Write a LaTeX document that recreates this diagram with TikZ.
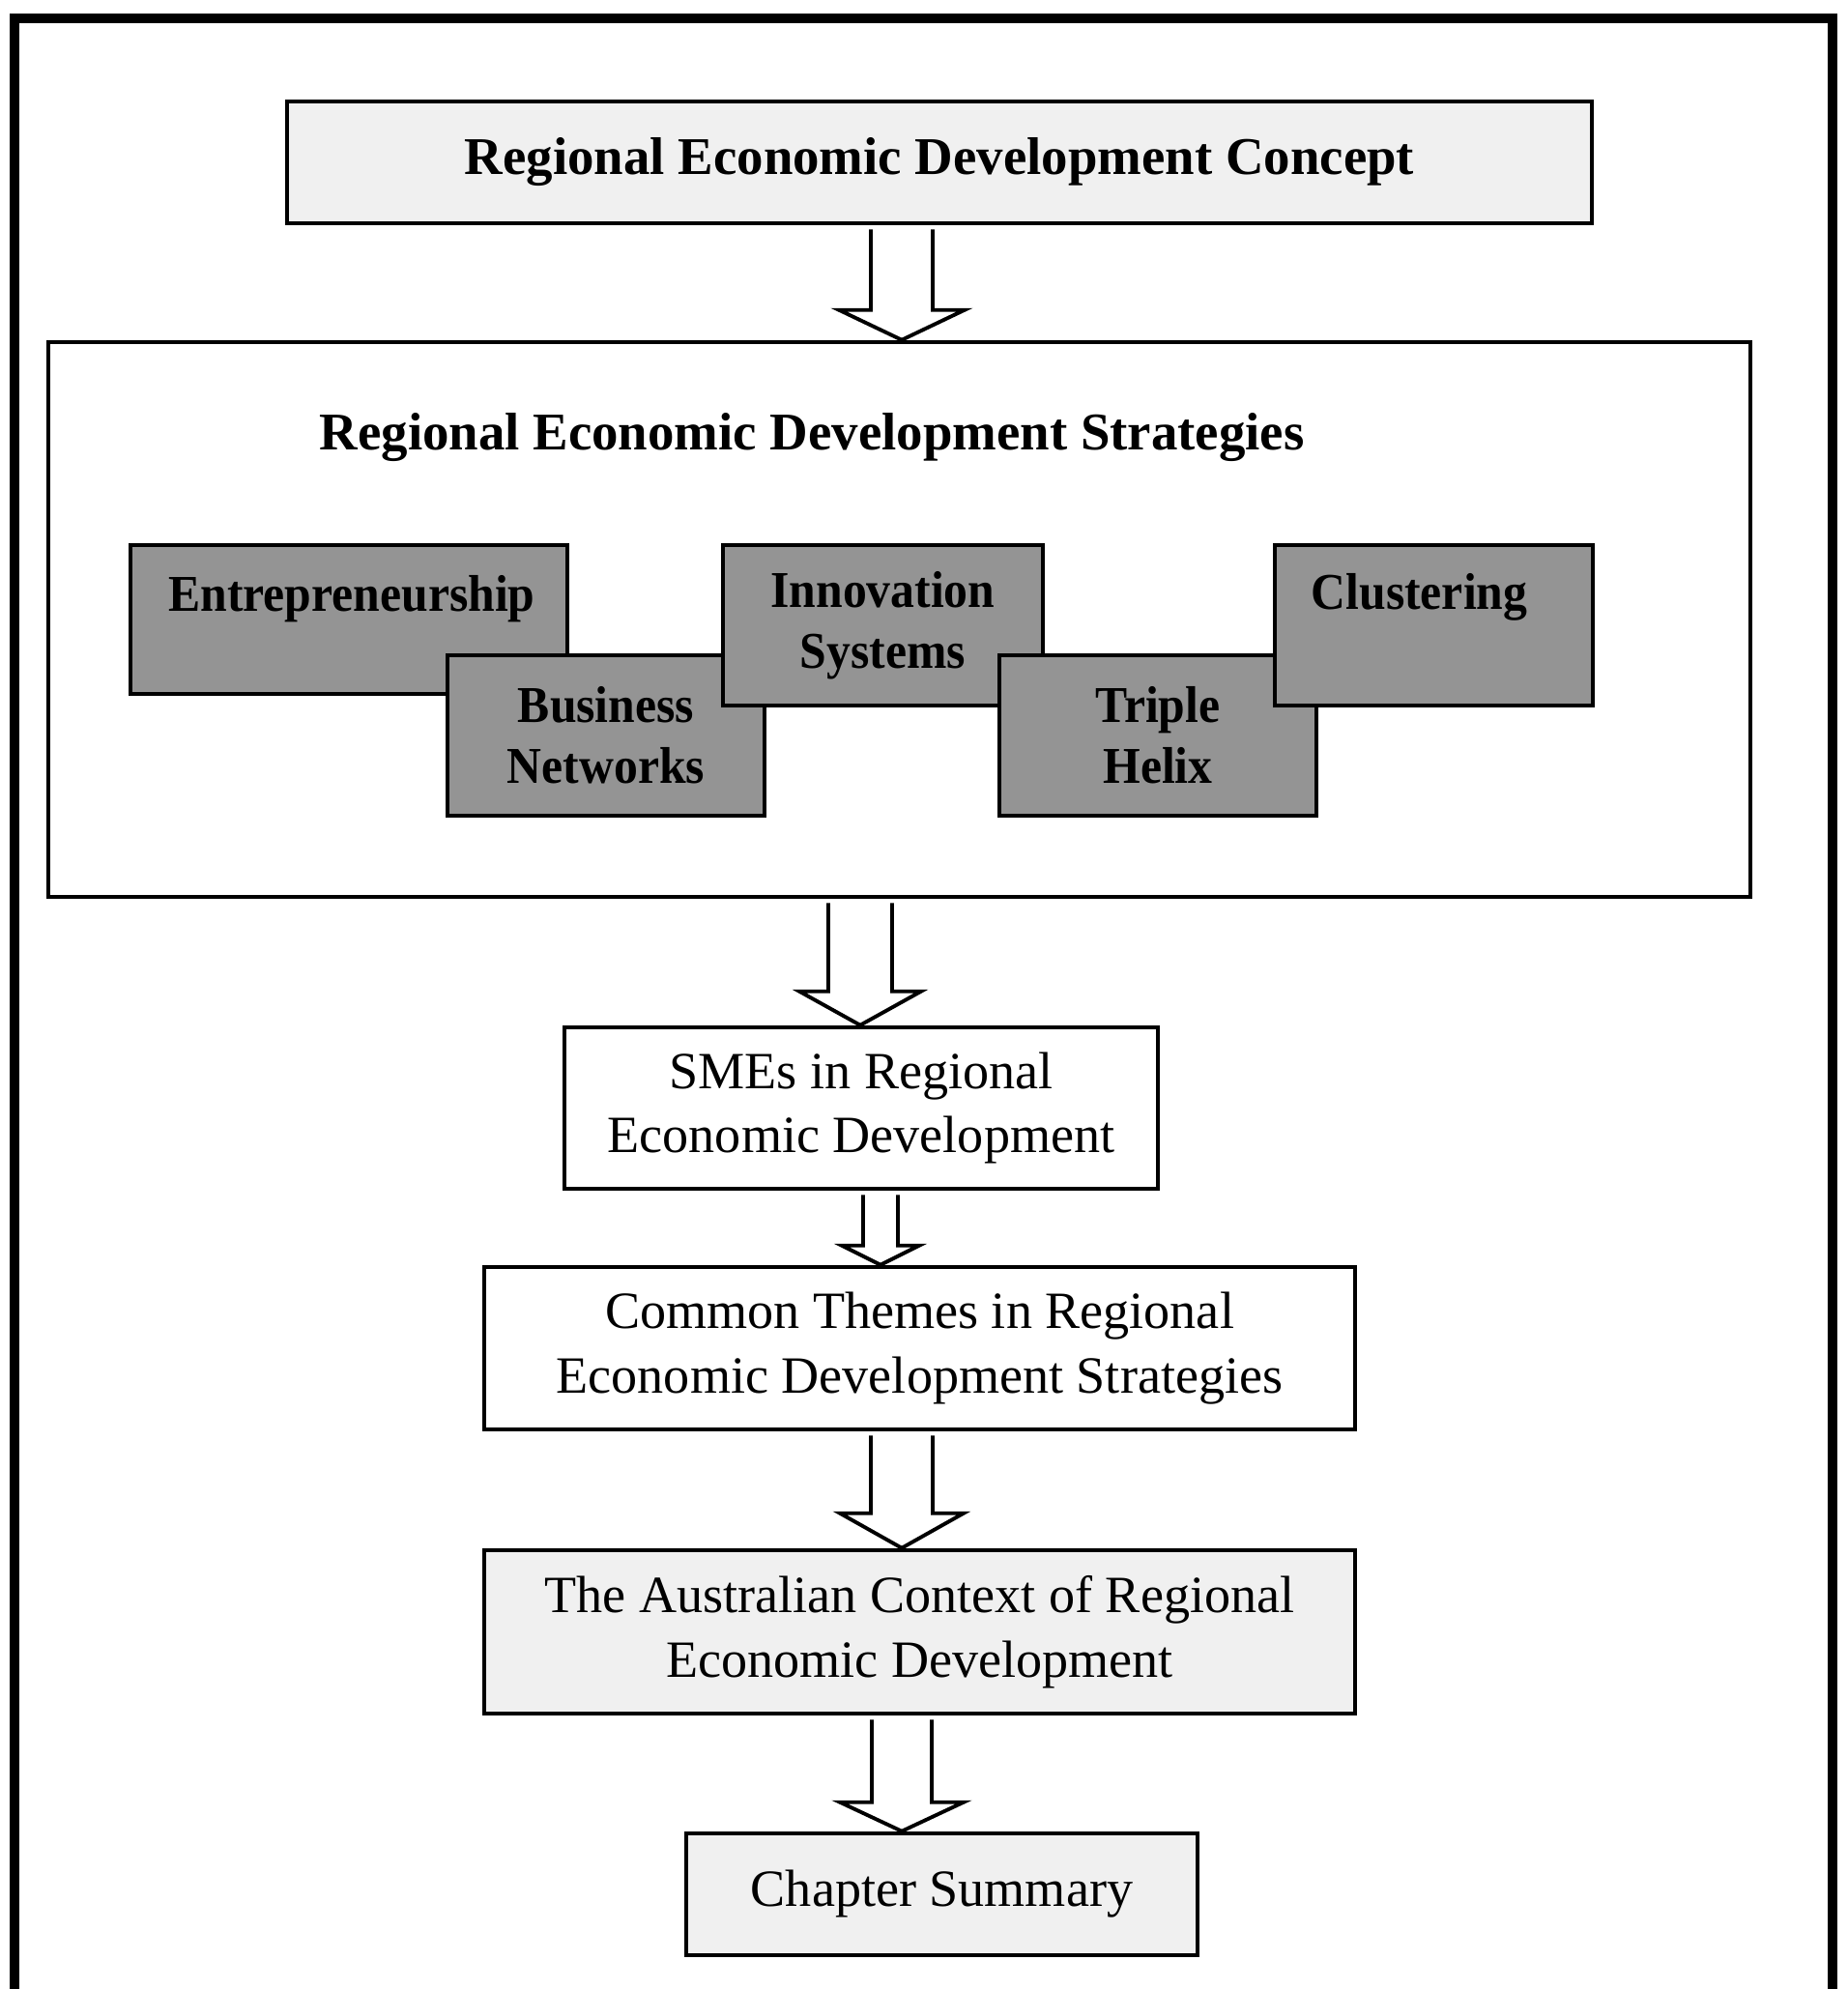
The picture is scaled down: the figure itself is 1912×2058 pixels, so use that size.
\documentclass[tikz,border=0pt]{standalone}
\usepackage{fontspec}
\setmainfont{Liberation Serif}
\newfontfamily\stratfont[FakeStretch=0.93]{Liberation Serif}
\usetikzlibrary{calc}

% hollow block arrow: source, target, axis coordinate, shaft half width, head half width, head length
\newcommand\openarrow[6]{%
  \draw[arrowline]
    ($(#1.south -| #3)+(-#4,4)$) -- ($(#2.north -| #3)+(-#4,-#6)$)
    -- ($(#2.north -| #3)+(-#5,-#6)$) -- (#2.north -| #3)
    -- ($(#2.north -| #3)+(#5,-#6)$) -- ($(#2.north -| #3)+(#4,-#6)$)
    -- ($(#1.south -| #3)+(#4,4)$);
}

\begin{document}
\begin{tikzpicture}[x=0.1mm, y=-0.1mm,
  frame/.style={line width=3.1pt},
  plainbox/.style={draw, line width=1.3pt, align=center, inner sep=0pt,
    font=\fontsize{15.4}{18.9}\selectfont},
  shadebox/.style={plainbox, fill=black!6},
  stratbox/.style={draw, line width=1.3pt, fill=black!42, inner sep=0pt, align=center},
  strattext/.style={align=center, font=\stratfont\bfseries\fontsize{15.2}{18}\selectfont},
  headtext/.style={font=\bfseries\fontsize{15.6}{18.7}\selectfont},
  arrowline/.style={line width=1.1pt, line join=miter},
]
\useasboundingbox (0,0) rectangle (1912,2058);

% outer frame (runs off the bottom edge)
\draw[frame] (15,2058) -- (15,19) -- (1896,19) -- (1896,2058);

% arrow axes
\coordinate (axA) at (933,0);
\coordinate (axB) at (890,0);
\coordinate (axC) at (911,0);

% top concept box
\node[shadebox, headtext, minimum width=135mm, minimum height=12.6mm] (concept) at (972,168)
  {Regional Economic Development Concept};

% strategies panel
\node[draw, line width=1.3pt, minimum width=176.1mm, minimum height=57.4mm] (strat) at (930.5,641) {};
\node[headtext, anchor=base west, inner sep=0pt] (strat-title) at (330,465)
  {Regional Economic Development Strategies};

% overlapping strategy tiles, drawn left to right
\node[stratbox, minimum width=45.2mm, minimum height=15.4mm] (ent) at (361,641) {};
\node[strattext] (ent-text) at ($(ent.center)+(3,-21)$) {Entrepreneurship};
\node[stratbox, strattext, minimum width=32.8mm, minimum height=16.6mm] (bus) at (627,761) {Business\\Networks};
\node[stratbox, strattext, minimum width=33.1mm, minimum height=16.6mm] (inn) at (913.5,647) {Innovation\\Systems};
\node[stratbox, strattext, minimum width=32.8mm, minimum height=16.6mm] (tri) at (1198,761) {Triple\\Helix};
\node[stratbox, minimum width=32.9mm, minimum height=16.6mm] (clu) at (1483.5,647) {};
\node[strattext] (clu-text) at ($(clu.center)+(-15,-29)$) {Clustering};

% lower chain of boxes
\node[plainbox, minimum width=61.4mm, minimum height=16.7mm] (smes) at (891,1146.5)
  {SMEs in Regional\\Economic Development};
\node[plainbox, minimum width=90.1mm, minimum height=16.8mm] (themes) at (951.5,1395)
  {Common Themes in Regional\\Economic Development Strategies};
\node[shadebox, minimum width=90.1mm, minimum height=16.9mm] (aus) at (951.5,1688.5)
  {The Australian Context of Regional\\Economic Development};
\node[shadebox, minimum width=52.9mm, minimum height=12.6mm] (summary) at (974.5,1960)
  {Chapter Summary};

% connectors
\openarrow{concept}{strat}{axA}{32}{65}{31}
\openarrow{strat}{smes}{axB}{33}{63}{35}
\openarrow{smes}{themes}{axC}{18}{40}{20}
\openarrow{themes}{aus}{axA}{32}{64}{36}
\openarrow{aus}{summary}{axA}{31}{64}{30}
\end{tikzpicture}
\end{document}
